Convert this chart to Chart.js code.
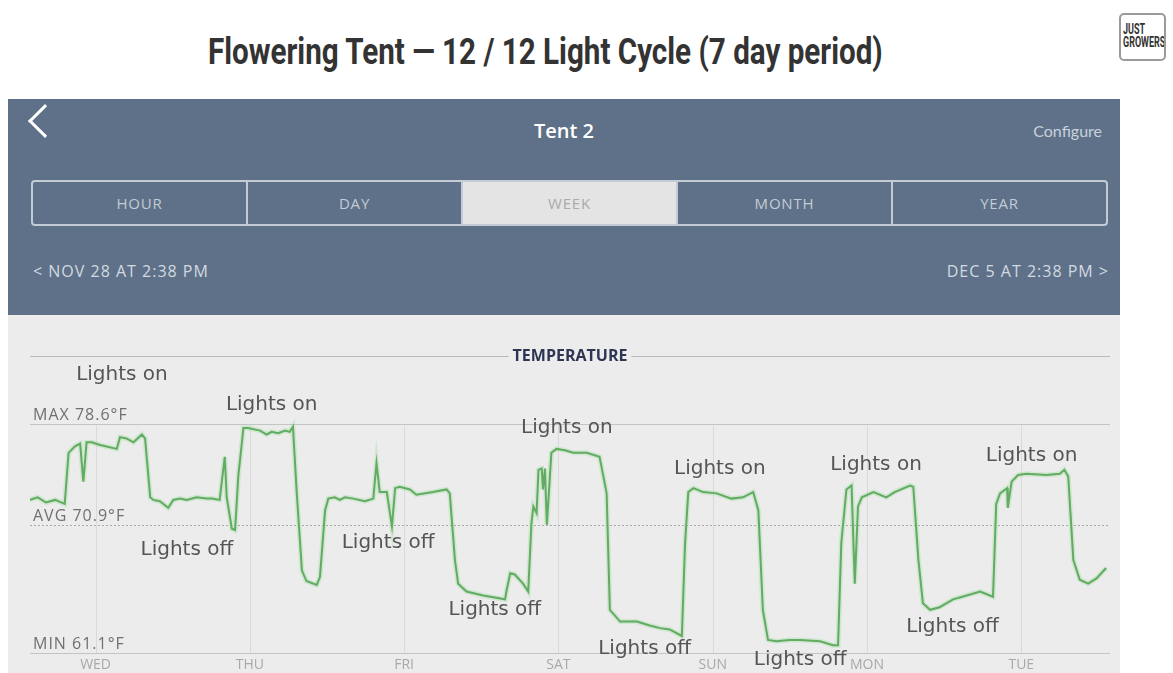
<!DOCTYPE html>
<html>
<head>
<meta charset="utf-8">
<script src="https://cdn.jsdelivr.net/npm/chart.js@4"></script>
<style>
  body { margin: 0; background: #fff; width: 1173px; height: 673px; overflow: hidden; position: relative; font-family: "Open Sans", "Lato", sans-serif; }
  #title { position: absolute; left: 0; width: 1090px; top: 31px; text-align: center; }
  #title span { display: inline-block; font-family: "Roboto", sans-serif; font-weight: bold; font-size: 36px; line-height: 42px; color: #333; white-space: nowrap; transform-origin: center; }
  #logo { position: absolute; left: 1119px; top: 13px; width: 47px; height: 48px; border: 2px solid #9a9a9a; border-radius: 5px; box-sizing: border-box; background: #fff; overflow: hidden; }
  #logo span { position: absolute; left: 2px; top: 8px; font-family: "Roboto", sans-serif; font-weight: bold; font-size: 15px; line-height: 13px; color: #333; transform: scaleX(0.6); transform-origin: left top; white-space: nowrap; }
  #header { position: absolute; left: 8px; top: 99px; width: 1112px; height: 216px; background: #5e7188; }
  #back { position: absolute; left: 25px; top: 10px; width: 24px; height: 24px; border-left: 3px solid #fff; border-bottom: 3px solid #fff; transform: rotate(45deg); box-sizing: border-box; }
  #tent { position: absolute; left: 0; width: 1112px; top: 18px; text-align: center; color: #fff; font-size: 20px; font-weight: 600; }
  #conf { position: absolute; right: 18px; top: 22px; color: #c9d1db; font-family: "Lato", sans-serif; font-size: 16px; }
  #seg { position: absolute; left: 23px; top: 81px; width: 1077px; height: 46px; border: 2px solid #c3ccd6; border-radius: 4px; box-sizing: border-box; display: flex; overflow: hidden; }
  #seg div { flex: 1; text-align: center; line-height: 42px; font-size: 15px; letter-spacing: 0.8px; color: #c3ccd6; border-left: 2px solid #c3ccd6; }
  #seg div:first-child { border-left: none; }
  #seg div.on { background: #e4e4e4; color: #aaa; }
  .date { position: absolute; top: 161px; color: #d3d9e1; font-size: 16px; letter-spacing: 1px; }
  #chartBox { position: absolute; left: 8px; top: 315px; width: 1112px; height: 358px; background: #ececec; }
</style>
</head>
<body>
<div id="title"><span id="titleText">Flowering Tent — 12 / 12 Light Cycle (7 day period)</span></div>
<div id="logo"><span>JUST<br>GROWERS</span></div>
<div id="header">
  <div id="back"></div>
  <div id="tent">Tent 2</div>
  <div id="conf">Configure</div>
  <div id="seg"><div>HOUR</div><div>DAY</div><div class="on">WEEK</div><div>MONTH</div><div>YEAR</div></div>
  <div class="date" style="left:25px">&lt; NOV 28 AT 2:38 PM</div>
  <div class="date" style="right:11px">DEC 5 AT 2:38 PM &gt;</div>
</div>
<div id="chartBox"><canvas id="temp" width="1112" height="358"></canvas></div>
<script>
// hours since Nov 28 2:38 PM
const hours = [0, 1.2, 2.5, 3.9, 5.4, 6.0, 7.0, 7.8, 8.3, 8.8, 9.6, 10.9, 13.5, 14.0, 15.0, 16.1, 17.4, 17.9,
  18.7, 19.2, 20.2, 21.5, 22.3, 23.3, 24.4, 25.9, 27.5, 28.3, 29.5, 30.3, 30.6, 31.4, 31.9, 32.4, 33.2, 33.9,
  35.8, 36.8, 37.6, 38.6, 39.7, 40.4, 40.9, 41.5, 42.3, 43.0, 44.6, 45.1, 45.9, 46.4, 47.4, 48.2, 49.0, 50.3,
  52.1, 53.4, 53.9, 54.4, 55.5, 56.3, 56.8, 57.5, 59.1, 60.1, 62.7, 64.8, 65.3, 66.1, 66.6, 67.9, 70.5, 73.9,
  74.1, 74.7, 75.4, 76.7, 77.5, 78.0, 78.3, 78.8, 79.1, 79.6, 79.8, 80.1, 80.4, 81.1, 81.9, 83.2, 84.5, 86.6,
  88.6, 89.7, 90.2, 91.8, 94.4, 96.4, 98.0, 99.5, 101.4, 101.9, 102.4, 103.2, 104.7, 106.8, 109.1, 110.9, 112.5,
  113.3, 114.0, 114.8, 116.1, 118.2, 119.8, 122.9, 124.9, 125.7, 126.2, 127.0, 127.8, 128.3, 128.8, 129.4,
  131.2, 133.2, 134.5, 136.9, 137.4, 138.2, 138.9, 140.0, 141.5, 143.6, 145.7, 147.8, 149.8, 150.3, 150.9,
  152.0, 152.1, 152.7, 153.7, 155.0, 158.1, 160.2, 160.9, 161.5, 162.3, 163.3, 164.6, 165.9, 167.4];
const tempF = [72.8, 73.0, 72.6, 72.8, 72.5, 76.4, 76.9, 77.1, 74.2, 77.2, 77.2, 77.0, 76.7, 77.6, 77.5, 77.2, 77.8, 77.5,
  73.0, 72.8, 72.7, 72.2, 72.8, 72.9, 72.8, 73.0, 72.9, 72.9, 72.8, 76.1, 73.0, 70.6, 70.5, 74.6, 78.3, 78.3,
  78.1, 77.8, 78.0, 77.9, 78.1, 78.0, 78.4, 73.3, 67.4, 66.6, 66.3, 66.9, 72.0, 72.9, 73.0, 72.8, 73.0, 72.9,
  72.7, 72.9, 75.6, 73.4, 73.4, 70.8, 73.7, 73.8, 73.6, 73.2, 73.4, 73.6, 73.3, 68.2, 66.4, 65.8, 65.5, 65.2,
  65.8, 67.2, 67.1, 66.4, 65.8, 71.0, 72.3, 71.8, 75.1, 75.2, 73.6, 75.2, 70.9, 76.4, 76.7, 76.6, 76.4, 76.4,
  76.1, 73.3, 64.4, 63.5, 63.5, 63.2, 63.0, 62.9, 62.4, 69.5, 73.4, 73.7, 73.4, 73.3, 72.9, 73.0, 73.4,
  72.0, 64.4, 62.1, 62.0, 62.1, 62.1, 62.0, 61.7, 61.7, 69.5, 73.6, 73.9, 66.4, 72.3, 73.0,
  73.4, 73.0, 73.4, 73.9, 73.8, 68.2, 64.9, 64.4, 64.6, 65.2, 65.5, 65.8, 65.4, 72.5, 73.3,
  73.7, 72.2, 74.2, 74.7, 74.8, 74.7, 74.8, 75.1, 74.6, 68.2, 66.7, 66.4, 66.8, 67.6];

const dayLabels = ["WED", "THU", "FRI", "SAT", "SUN", "MON", "TUE"];
const dayHours = [10.2, 34.2, 58.2, 82.2, 106.2, 130.2, 154.2];

const refNames = ["MAX 78.6°F", "AVG 70.9°F", "MIN 61.1°F"];
const refValues = [78.6, 70.9, 61.1];

const noteText = ["Lights on", "Lights on", "Lights off", "Lights off", "Lights on", "Lights off",
  "Lights on", "Lights off", "Lights off", "Lights on", "Lights off", "Lights on"];
const noteHours = [14.3, 37.6, 24.4, 55.7, 83.5, 72.3, 107.3, 95.6, 119.8, 131.6, 143.5, 155.8];
const noteTemps = [82.4, 80.1, 69.0, 69.5, 78.3, 64.4, 75.2, 61.4, 60.6, 75.5, 63.1, 76.2];

// squeeze the title into the condensed look of the original
const tt = document.getElementById("titleText");
tt.style.transform = "scaleX(" + (675 / tt.offsetWidth) + ")";

const points = hours.map((h, i) => ({ x: h, y: tempF[i] }));

// draws the app's own reference lines, day grid and the "Lights" notes
const appDecor = {
  id: "appDecor",
  beforeDatasetsDraw(chart) {
    const ctx = chart.ctx;
    const xs = chart.scales.x, ys = chart.scales.y;
    const area = chart.chartArea;
    ctx.save();
    // day grid
    ctx.strokeStyle = "#dadada";
    ctx.lineWidth = 1;
    dayHours.forEach(h => {
      const px = Math.round(xs.getPixelForValue(h)) + 0.5;
      ctx.beginPath();
      ctx.moveTo(px, ys.getPixelForValue(refValues[0]));
      ctx.lineTo(px, ys.getPixelForValue(refValues[2]));
      ctx.stroke();
    });
    // top line with title gap
    ctx.strokeStyle = "#b9b9b9";
    const topY = Math.round(area.top) + 0.5;
    const mid = (area.left + area.right) / 2;
    ctx.font = "bold 16px 'Open Sans', sans-serif";
    const tw = ctx.measureText("TEMPERATURE").width / 2 + 4;
    ctx.beginPath();
    ctx.moveTo(area.left, topY); ctx.lineTo(mid - tw, topY);
    ctx.moveTo(mid + tw, topY); ctx.lineTo(area.right, topY);
    ctx.stroke();
    ctx.fillStyle = "#2d3552";
    ctx.textAlign = "center";
    ctx.textBaseline = "middle";
    ctx.fillText("TEMPERATURE", mid, topY);
    // max / avg / min
    refValues.forEach((v, i) => {
      const py = Math.round(ys.getPixelForValue(v)) + 0.5;
      ctx.strokeStyle = i === 1 ? "#a8a8a8" : "#c4c4c4";
      ctx.setLineDash(i === 1 ? [2, 2] : []);
      ctx.beginPath();
      ctx.moveTo(area.left, py); ctx.lineTo(area.right, py);
      ctx.stroke();
      ctx.setLineDash([]);
      ctx.fillStyle = "#707070";
      ctx.font = "16px 'Open Sans', sans-serif";
      ctx.letterSpacing = "1px";
      ctx.textAlign = "left";
      ctx.textBaseline = "bottom";
      ctx.fillText(refNames[i], area.left + 3, py - 1);
      ctx.letterSpacing = "0px";
    });
    // day labels
    ctx.fillStyle = "#a8a8a8";
    ctx.font = "14px 'Open Sans', sans-serif";
    ctx.textAlign = "center";
    ctx.textBaseline = "middle";
    dayLabels.forEach((d, i) => {
      ctx.fillText(d, xs.getPixelForValue(dayHours[i]), ys.getPixelForValue(refValues[2]) + 12);
    });
    ctx.restore();
  },
  afterDatasetsDraw(chart) {
    const ctx = chart.ctx;
    const xs = chart.scales.x, ys = chart.scales.y;
    ctx.save();
    ctx.fillStyle = "#555";
    ctx.font = "20px 'DejaVu Sans', sans-serif";
    ctx.textAlign = "center";
    ctx.textBaseline = "middle";
    noteText.forEach((t, i) => {
      ctx.fillText(t, xs.getPixelForValue(noteHours[i]), ys.getPixelForValue(noteTemps[i]));
    });
    ctx.restore();
  }
};

new Chart(document.getElementById("temp"), {
  type: "line",
  data: {
    datasets: [
      { data: points, borderColor: "#62ab62", borderWidth: 2, pointRadius: 0, tension: 0 },
      { data: points, borderColor: "rgba(140,215,140,0.3)", borderWidth: 5, pointRadius: 0, tension: 0 }
    ]
  },
  options: {
    responsive: false,
    animation: false,
    devicePixelRatio: 1,
    layout: { padding: { left: 22, right: 10, top: 41, bottom: 20 } },
    plugins: { legend: { display: false }, tooltip: { enabled: false } },
    scales: {
      x: { type: "linear", min: 0, max: 168, display: false },
      y: { min: 61.1, max: 83.8, display: false }
    }
  },
  plugins: [appDecor]
});
</script>
</body>
</html>
